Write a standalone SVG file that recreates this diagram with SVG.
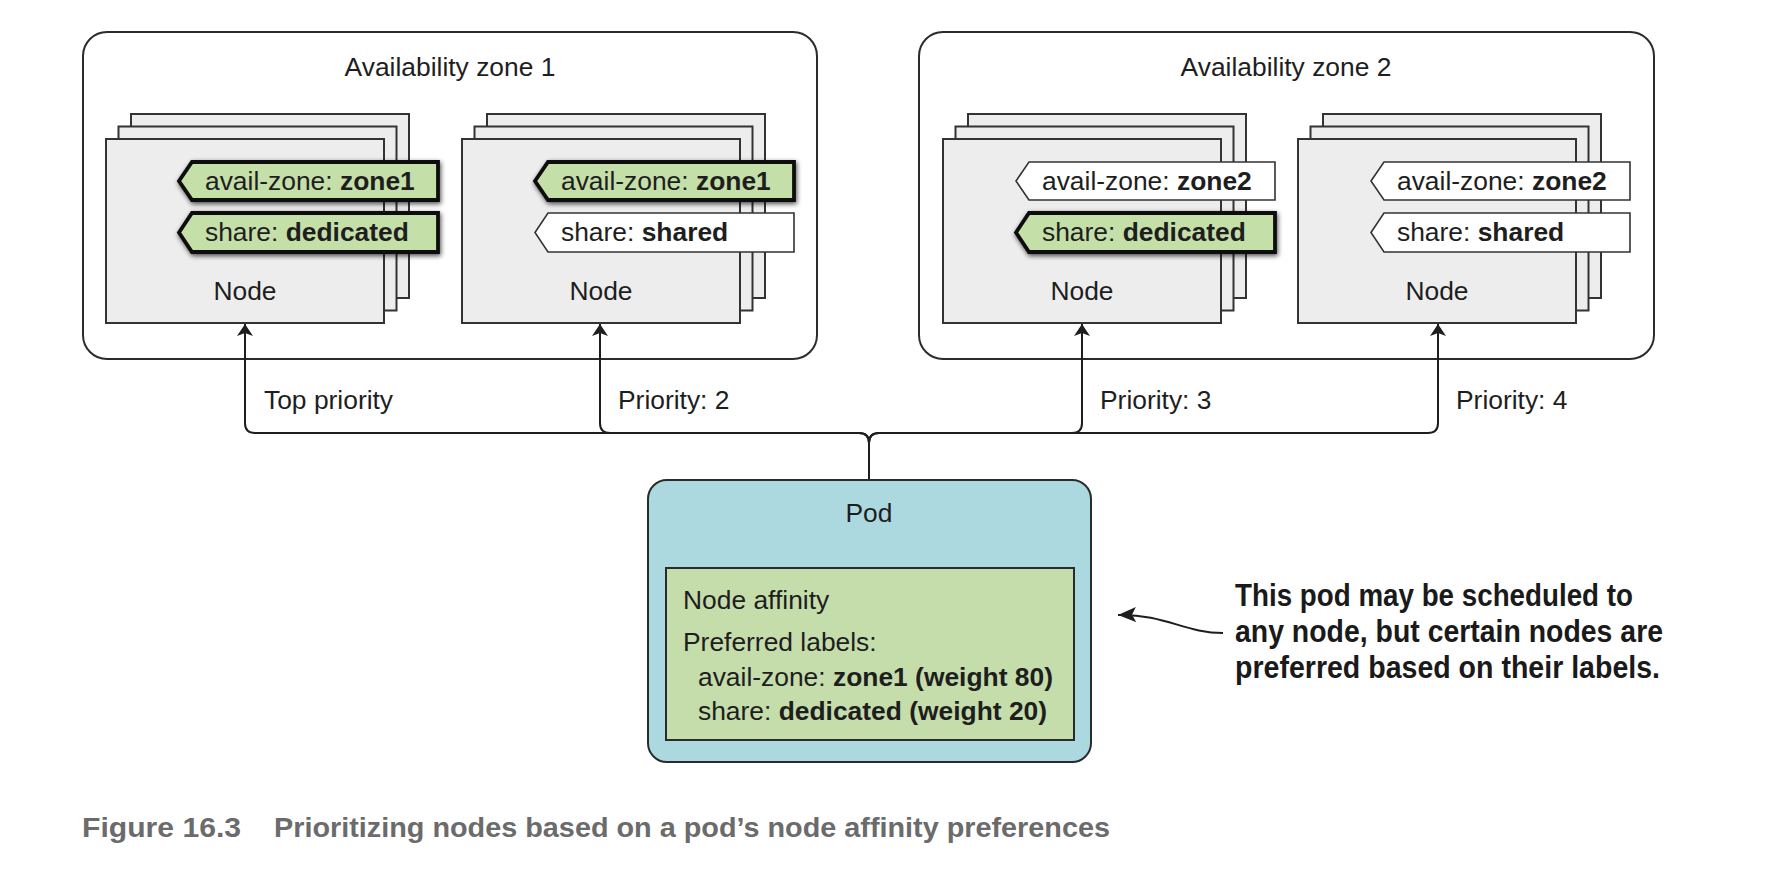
<svg xmlns="http://www.w3.org/2000/svg" width="1782" height="894" viewBox="0 0 1782 894">
  <defs>
    <style>
      .zone { fill: #ffffff; stroke: #2b2b2b; stroke-width: 2; }
      .plate { fill: #ededed; stroke: #333333; stroke-width: 2; }
      .tagw { fill: #ffffff; stroke: #333333; stroke-width: 1.6; }
      .tagg { fill: #c5dfa9; stroke: #111111; stroke-width: 3.8; stroke-linejoin: miter; }
      .t { font-family: "Liberation Sans", Arial, sans-serif; font-size: 26.4px; fill: #1e1e1e; }
      .b { font-weight: bold; }
      .conn { fill: none; stroke: #1e1e1e; stroke-width: 2; }
      .callout { font-family: "Liberation Sans", Arial, sans-serif; font-size: 32px; font-weight: bold; fill: #1a1a1a; }
      .caption { font-family: "Liberation Sans", Arial, sans-serif; font-size: 28px; font-weight: bold; fill: #6b6b6b; }
    </style>
    <marker id="arr" viewBox="0 0 12 16" refX="12" refY="8" markerWidth="12" markerHeight="16" markerUnits="userSpaceOnUse" orient="auto">
      <path d="M0,0 L12,8 L0,16 L3,8 Z" fill="#1e1e1e"/>
    </marker>
    <marker id="arr2" viewBox="0 0 18 15" refX="18" refY="7.5" markerWidth="18" markerHeight="15" markerUnits="userSpaceOnUse" orient="auto">
      <path d="M0,0 L18,7.5 L0,15 L4,7.5 Z" fill="#1e1e1e"/>
    </marker>
    <filter id="glow" x="-10%" y="-40%" width="120%" height="180%">
      <feGaussianBlur in="SourceAlpha" stdDeviation="2.5" result="blur"/>
      <feOffset in="blur" dx="1" dy="2" result="off"/>
      <feComponentTransfer in="off" result="sh"><feFuncA type="linear" slope="0.7"/></feComponentTransfer>
      <feMerge><feMergeNode in="sh"/><feMergeNode in="SourceGraphic"/></feMerge>
    </filter>
  </defs>

  <rect width="1782" height="894" fill="#ffffff"/>

  <!-- Availability zones -->
  <g id="zone1">
    <rect class="zone" x="83" y="32" width="734" height="327" rx="24"/>
    <text class="t" x="450" y="76" text-anchor="middle">Availability zone 1</text>
  </g>
  <g id="zone2">
    <rect class="zone" x="919" y="32" width="735" height="327" rx="24"/>
    <text class="t" x="1286" y="76" text-anchor="middle">Availability zone 2</text>
  </g>

  <!-- Nodes -->
  <g id="node-z1-a" transform="translate(106,139)">
    <rect class="plate" x="25" y="-25" width="278" height="184"/>
    <rect class="plate" x="12.5" y="-12.5" width="278" height="184"/>
    <rect class="plate" x="0" y="0" width="278" height="184"/>
    <polygon class="tagg" filter="url(#glow)" points="73,42 86,23 332,23 332,61 86,61"/>
    <text class="t" x="99" y="51">avail-zone: <tspan class="b">zone1</tspan></text>
    <polygon class="tagg" filter="url(#glow)" points="73,93.5 86,74 332,74 332,113 86,113"/>
    <text class="t" x="99" y="102">share: <tspan class="b">dedicated</tspan></text>
    <text class="t" x="139" y="161" text-anchor="middle">Node</text>
  </g>
  <g id="node-z1-b" transform="translate(462,139)">
    <rect class="plate" x="25" y="-25" width="278" height="184"/>
    <rect class="plate" x="12.5" y="-12.5" width="278" height="184"/>
    <rect class="plate" x="0" y="0" width="278" height="184"/>
    <polygon class="tagg" filter="url(#glow)" points="73,42 86,23 332,23 332,61 86,61"/>
    <text class="t" x="99" y="51">avail-zone: <tspan class="b">zone1</tspan></text>
    <polygon class="tagw" points="73,93.5 86,74 332,74 332,113 86,113"/>
    <text class="t" x="99" y="102">share: <tspan class="b">shared</tspan></text>
    <text class="t" x="139" y="161" text-anchor="middle">Node</text>
  </g>
  <g id="node-z2-a" transform="translate(943,139)">
    <rect class="plate" x="25" y="-25" width="278" height="184"/>
    <rect class="plate" x="12.5" y="-12.5" width="278" height="184"/>
    <rect class="plate" x="0" y="0" width="278" height="184"/>
    <polygon class="tagw" points="73,42 86,23 332,23 332,61 86,61"/>
    <text class="t" x="99" y="51">avail-zone: <tspan class="b">zone2</tspan></text>
    <polygon class="tagg" filter="url(#glow)" points="73,93.5 86,74 332,74 332,113 86,113"/>
    <text class="t" x="99" y="102">share: <tspan class="b">dedicated</tspan></text>
    <text class="t" x="139" y="161" text-anchor="middle">Node</text>
  </g>
  <g id="node-z2-b" transform="translate(1298,139)">
    <rect class="plate" x="25" y="-25" width="278" height="184"/>
    <rect class="plate" x="12.5" y="-12.5" width="278" height="184"/>
    <rect class="plate" x="0" y="0" width="278" height="184"/>
    <polygon class="tagw" points="73,42 86,23 332,23 332,61 86,61"/>
    <text class="t" x="99" y="51">avail-zone: <tspan class="b">zone2</tspan></text>
    <polygon class="tagw" points="73,93.5 86,74 332,74 332,113 86,113"/>
    <text class="t" x="99" y="102">share: <tspan class="b">shared</tspan></text>
    <text class="t" x="139" y="161" text-anchor="middle">Node</text>
  </g>

  <!-- Connectors -->
  <g id="connectors">
    <path class="conn" marker-end="url(#arr)" d="M869,480 V443 Q869,433 859,433 H255 Q245,433 245,423 V324"/>
    <path class="conn" marker-end="url(#arr)" d="M869,480 V443 Q869,433 859,433 H610 Q600,433 600,423 V324"/>
    <path class="conn" marker-end="url(#arr)" d="M869,480 V443 Q869,433 879,433 H1072 Q1082,433 1082,423 V324"/>
    <path class="conn" marker-end="url(#arr)" d="M869,480 V443 Q869,433 879,433 H1428 Q1438,433 1438,423 V324"/>
    <text class="t" x="264" y="409">Top priority</text>
    <text class="t" x="618" y="409">Priority: 2</text>
    <text class="t" x="1100" y="409">Priority: 3</text>
    <text class="t" x="1456" y="409">Priority: 4</text>
    <path class="conn" marker-end="url(#arr2)" d="M1223,633 C1185,633 1165,614 1118,615"/>
  </g>

  <!-- Pod -->
  <g id="pod">
    <rect x="648" y="480" width="443" height="282" rx="19" fill="#acd9e0" stroke="#2b2b2b" stroke-width="2"/>
    <text class="t" x="869" y="522" text-anchor="middle">Pod</text>
    <rect x="666" y="568" width="408" height="172" fill="#c5dcab" stroke="#2b2b2b" stroke-width="2"/>
    <text class="t" x="683" y="609">Node affinity</text>
    <text class="t" x="683" y="651">Preferred labels:</text>
    <text class="t" x="698" y="686">avail-zone: <tspan class="b">zone1 (weight 80)</tspan></text>
    <text class="t" x="698" y="720">share: <tspan class="b">dedicated (weight 20)</tspan></text>
  </g>

  <!-- Callout -->
  <g id="callout">
    <text class="callout" x="1235" y="606" textLength="398" lengthAdjust="spacingAndGlyphs">This pod may be scheduled to</text>
    <text class="callout" x="1235" y="642" textLength="428" lengthAdjust="spacingAndGlyphs">any node, but certain nodes are</text>
    <text class="callout" x="1235" y="678" textLength="425" lengthAdjust="spacingAndGlyphs">preferred based on their labels.</text>
  </g>

  <!-- Caption -->
  <g id="caption">
    <text class="caption" x="82" y="837" textLength="159" lengthAdjust="spacingAndGlyphs">Figure 16.3</text>
    <text class="caption" x="274" y="837" textLength="836" lengthAdjust="spacingAndGlyphs">Prioritizing nodes based on a pod’s node affinity preferences</text>
  </g>
</svg>
